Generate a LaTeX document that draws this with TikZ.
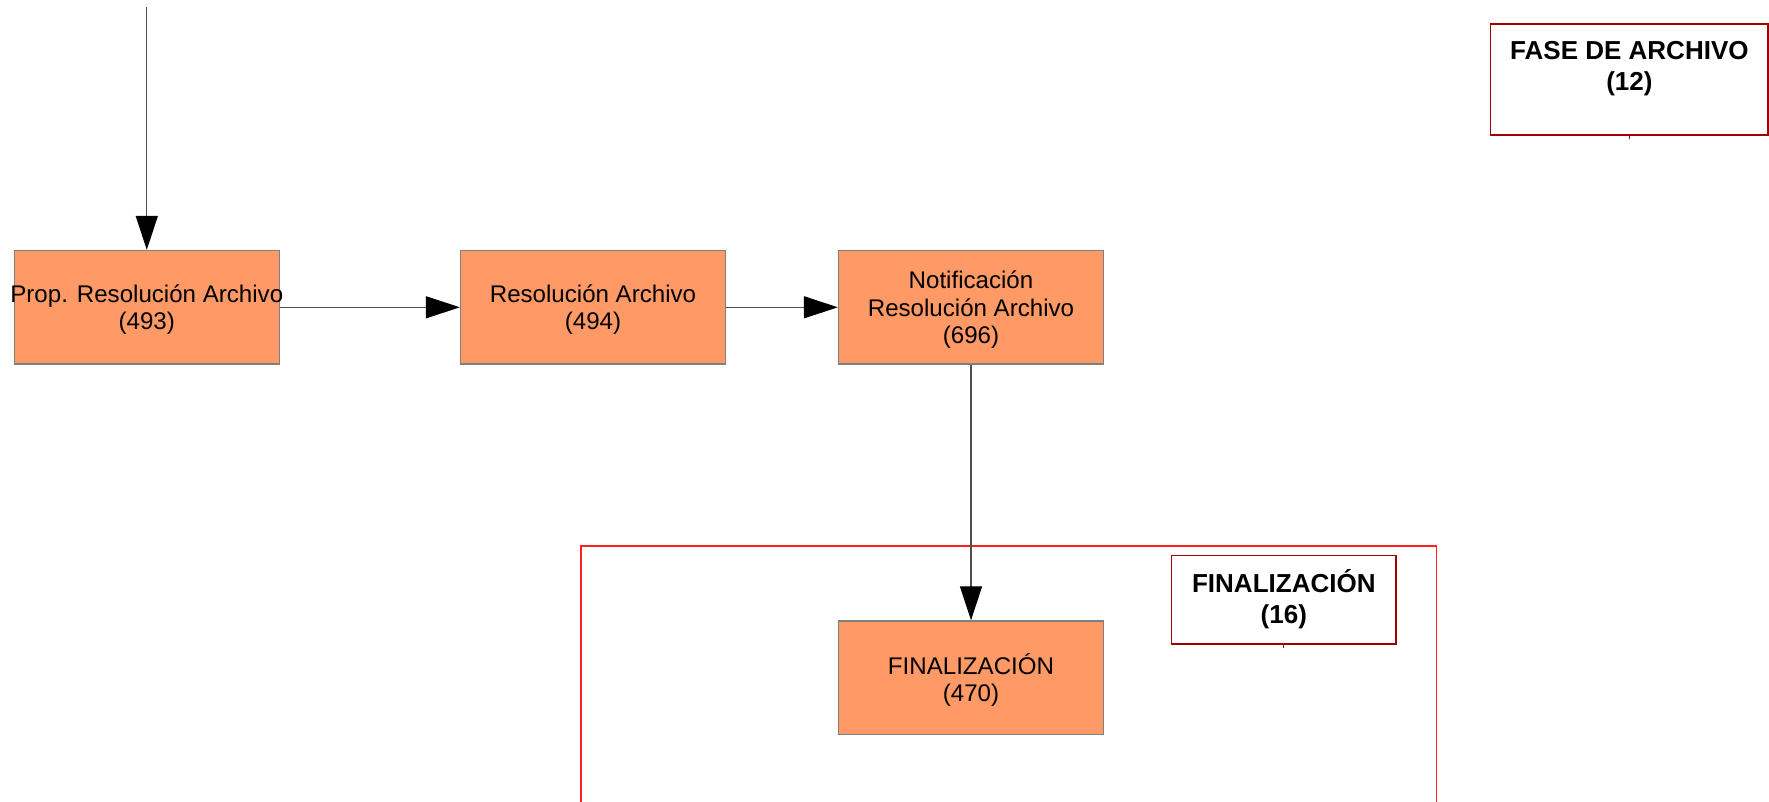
\documentclass[tikz,border=0pt]{standalone}
\usepackage{fontspec}
\setmainfont{Liberation Sans}
\usetikzlibrary{arrows.meta}
\definecolor{boxfill}{HTML}{FF9966}
\definecolor{boxline}{HTML}{808080}
\definecolor{conn}{HTML}{505050}
\definecolor{grpred}{HTML}{FF2020}
\definecolor{lblred}{HTML}{A00000}
\begin{document}
\begin{tikzpicture}[x=1pt,y=-1pt,
  stepbox/.style={draw=boxline, line width=1.3pt, fill=boxfill, minimum width=265pt,
    minimum height=113.5pt, inner sep=0pt},
  steptext/.style={inner sep=0pt, align=center, yshift=-2.5pt,
    font=\fontsize{24.1}{27.5}\selectfont},
  lblbox/.style={draw=lblred, line width=1.4pt, inner sep=0pt},
  lbltext/.style={inner sep=0pt, align=center, anchor=north,
    font=\fontsize{26}{31}\selectfont\bfseries},
  conn/.style={draw=conn, line width=1.3pt, -{Triangle[length=34pt,width=22pt,color=black]}},
  tick/.style={draw=lblred, line width=1pt}
]
\useasboundingbox (0,0) rectangle (1769,802);

% group frame (open at the bottom)
\draw[grpred, line width=1.2pt] (581,810) -- (581,546) -- (1436.5,546) -- (1436.5,810);

% label boxes
\node[lblbox, minimum width=277.3pt, minimum height=111pt] (fase) at (1629.4,79.5) {};
\node[lbltext] (fasetxt) at (1629.4,41.5) {FASE DE ARCHIVO\\(12)};
\draw[tick] (fase.south) -- ++(0,3);

\node[lblbox, minimum width=224.3pt, minimum height=88.3pt] (fin) at (1283.8,599.8) {};
\node[lbltext] (fintxt) at (1283.8,569.5) {FINALIZACIÓN\\(16)};
\draw[tick] (fin.south) -- ++(0,3);

% process boxes
\node[stepbox] (b1) at (146.8,307.3) {};
\node[steptext] (t1) at (b1.center) {Prop. Resolución Archivo\\(493)};
\node[stepbox] (b2) at (593,307.3) {};
\node[steptext] (t2) at (b2.center) {Resolución Archivo\\(494)};
\node[stepbox] (b3) at (971,307.3) {};
\node[steptext] (t3) at (b3.center) {Notificación\\Resolución Archivo\\(696)};
\node[stepbox] (b4) at (971,677.7) {};
\node[steptext] (t4) at (b4.center) {FINALIZACIÓN\\(470)};

% connectors
\coordinate (top) at (146.8,7);
\draw[conn] (top) -- (b1.north);
\draw[conn] (b1.east) -- (b2.west);
\draw[conn] (b2.east) -- (b3.west);
\draw[conn] (b3.south) -- (b4.north);
\end{tikzpicture}
\end{document}
